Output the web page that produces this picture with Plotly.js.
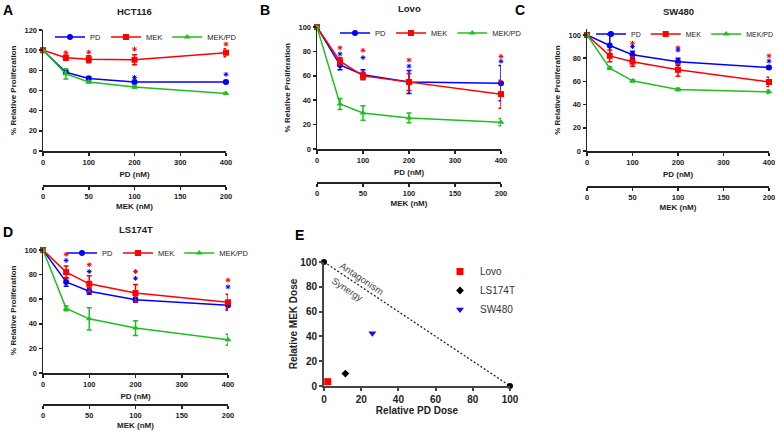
<!DOCTYPE html>
<html>
<head>
<meta charset="utf-8">
<script src="https://cdn.plot.ly/plotly-3.0.1.min.js"></script>
<style>
  html, body { margin: 0; padding: 0; background: #fff; }
  #chart { width: 776px; height: 434px; }
</style>
</head>
<body>
<div id="chart"></div>
<script>
// Doses (PD axis) and the matching MEK axis ticks
const pdDose = [0, 50, 100, 200, 400];
const pdTicks = [0, 100, 200, 300, 400];
const mekTicks = [0, 50, 100, 150, 200];
const starDose = [50, 100, 200, 400];
const yTicks120 = [0, 20, 40, 60, 80, 100, 120];
const yTicks100 = [0, 20, 40, 60, 80, 100];

// HCT116
const hctPD = [100, 78, 72, 68.5, 68.5];
const hctPDErr = [0.5, 2, 2, 1.5, 1.5];
const hctMEK = [100, 92.5, 91, 90.5, 97.5];
const hctMEKErr = [0.5, 2.5, 3.5, 5, 4];
const hctCombo = [100, 76.5, 68.5, 63.5, 57];
const hctComboErr = [0.5, 5, 1, 1, 1];
const hctStarRed = [97.5, 98, 101, 106];
const hctStarBlue = [null, null, 73, 76];

// Lovo
const lovoPD = [100, 69, 61, 55, 54];
const lovoPDErr = [0.5, 4, 4, 9.5, 14.5];
const lovoMEK = [100, 72, 60, 55, 45];
const lovoMEKErr = [0.5, 3, 3, 7, 11.5];
const lovoCombo = [100, 37, 29.5, 25.5, 22];
const lovoComboErr = [0.5, 4.5, 6, 4, 3];
const lovoStarRed = [83, 81, 73, 76];
const lovoStarBlue = [78, 75, 68, 72];

// SW480
const swPD = [100, 91, 83, 77, 72];
const swPDErr = [0.5, 9.5, 3, 3, 1.5];
const swMEK = [100, 82, 77, 70, 59.5];
const swMEKErr = [0.5, 5, 4, 5.5, 4];
const swCombo = [100, 71.5, 60.5, 53, 51];
const swComboErr = [0.5, 1, 1, 1, 1.5];
const swStarRed = [108.5, 93, 89, 82];
const swStarBlue = [101, 90, 87, 77.5];

// LS174T
const lsPD = [100, 74, 66.5, 59.5, 55];
const lsPDErr = [0.5, 3.5, 2.5, 2, 3];
const lsMEK = [100, 82, 72.5, 65, 57.5];
const lsMEKErr = [0.5, 5, 6.5, 7, 6.5];
const lsCombo = [100, 52.5, 44, 36.5, 27];
const lsComboErr = [0.5, 2, 9, 6, 4.5];
const lsStarRed = [96.5, 88, 82.5, 75.5];
const lsStarBlue = [91.5, 82.5, 77, 70];

// Isobologram (panel E)
const isoLines = ['Lovo', 'LS174T', 'SW480'];
const isoPD = [2, 11.5, 26];
const isoMEK = [3.5, 10, 42.5];
const additivePD = [0, 100];
const additiveMEK = [100, 0];
const isoTicks = [0, 20, 40, 60, 80, 100];

const FONT = 'Liberation Sans, Arial, sans-serif';
const BLUE = '#0000ff', RED = '#ff0000', GREEN = '#1fbf1f', INK = '#222';

const panels = [
  { letter: 'A', name: 'HCT116', pd: hctPD, pdErr: hctPDErr, mek: hctMEK, mekErr: hctMEKErr,
    combo: hctCombo, comboErr: hctComboErr, red: hctStarRed, blue: hctStarBlue,
    px: [43, 226], py: [151, 29.5], yRange: [0, 120.5], yTicks: yTicks120, mekY: 185,
    legX: 50, legY: 37, legSize: 7.5 },
  { letter: 'B', name: 'Lovo', pd: lovoPD, pdErr: lovoPDErr, mek: lovoMEK, mekErr: lovoMEKErr,
    combo: lovoCombo, comboErr: lovoComboErr, red: lovoStarRed, blue: lovoStarBlue,
    px: [317, 501], py: [149, 26.5], yRange: [0, 100.5], yTicks: yTicks100, mekY: 182,
    legX: 335, legY: 33, legSize: 7.5 },
  { letter: 'C', name: 'SW480', pd: swPD, pdErr: swPDErr, mek: swMEK, mekErr: swMEKErr,
    combo: swCombo, comboErr: swComboErr, red: swStarRed, blue: swStarBlue,
    px: [587, 769], py: [151, 29.2], yRange: [0, 105], yTicks: yTicks100, mekY: 186,
    legX: 591, legY: 34, legSize: 7 },
  { letter: 'D', name: 'LS174T', pd: lsPD, pdErr: lsPDErr, mek: lsMEK, mekErr: lsMEKErr,
    combo: lsCombo, comboErr: lsComboErr, red: lsStarRed, blue: lsStarBlue,
    px: [43, 228], py: [373, 247.5], yRange: [0, 102], yTicks: yTicks100, mekY: 404,
    legX: 62, legY: 253, legSize: 7.5 }
];

const W = 776, H = 434;
const fx = p => p / W;
const fy = p => 1 - p / H;

const tickFont = { family: FONT, size: 7.5, weight: 'bold', color: INK };
const titleFont = { family: FONT, size: 8, weight: 'bold', color: INK };

function axisBase() {
  return {
    showline: true, linecolor: INK, linewidth: 1.5,
    ticks: 'outside', ticklen: 3, tickwidth: 1.5, tickcolor: INK,
    showgrid: false, zeroline: false, fixedrange: true,
    tickfont: tickFont
  };
}

const data = [];
const layout = {
  width: W, height: H,
  margin: { l: 0, r: 0, t: 0, b: 0, autoexpand: false },
  paper_bgcolor: '#fff', plot_bgcolor: 'rgba(0,0,0,0)',
  showlegend: true,
  annotations: [],
  font: { family: FONT, color: INK }
};

function series(name, y, err, color, symbol, xa, ya, leg) {
  return {
    type: 'scatter', mode: 'lines+markers', name: name,
    x: pdDose, y: y, xaxis: xa, yaxis: ya, legend: leg,
    line: { color: color, width: 1.5 },
    marker: { color: color, symbol: symbol, size: 6 },
    error_y: { type: 'data', array: err, visible: true, color: color, thickness: 1.5, width: 2.5 },
    cliponaxis: false
  };
}

function stars(y, color, xa, ya) {
  return {
    type: 'scatter', mode: 'markers', x: starDose, y: y, xaxis: xa, yaxis: ya,
    showlegend: false, hoverinfo: 'skip', cliponaxis: false,
    marker: { symbol: 'asterisk-open', size: 4, color: color, line: { color: color, width: 1 } }
  };
}

panels.forEach((p, i) => {
  const xn = 2 * i + 1, xm = 2 * i + 2, yn = i + 1;
  const xa = xn === 1 ? 'x' : 'x' + xn;
  const ya = yn === 1 ? 'y' : 'y' + yn;
  const leg = i === 0 ? 'legend' : 'legend' + (i + 1);
  const xKey = xn === 1 ? 'xaxis' : 'xaxis' + xn;
  const yKey = yn === 1 ? 'yaxis' : 'yaxis' + yn;

  data.push(series('PD', p.pd, p.pdErr, BLUE, 'circle', xa, ya, leg));
  data.push(series('MEK', p.mek, p.mekErr, RED, 'square', xa, ya, leg));
  data.push(series('MEK/PD', p.combo, p.comboErr, GREEN, 'triangle-up', xa, ya, leg));
  data.push(stars(p.red, RED, xa, ya));
  data.push(stars(p.blue, BLUE, xa, ya));
  // empty trace so the secondary MEK axis is drawn
  data.push({ type: 'scatter', mode: 'markers', x: [], y: [], xaxis: 'x' + xm, yaxis: ya, showlegend: false, hoverinfo: 'skip' });

  layout[xKey] = Object.assign(axisBase(), {
    domain: [fx(p.px[0]), fx(p.px[1])], anchor: ya, range: [0, 400],
    tickvals: pdTicks,
    title: { text: 'PD (nM)', font: titleFont, standoff: 6 }
  });
  layout['xaxis' + xm] = Object.assign(axisBase(), {
    domain: [fx(p.px[0]), fx(p.px[1])], overlaying: xa, anchor: 'free',
    position: fy(p.mekY), side: 'bottom', range: [0, 200],
    tickvals: mekTicks,
    title: { text: 'MEK (nM)', font: titleFont, standoff: 4 }
  });
  layout[yKey] = Object.assign(axisBase(), {
    domain: [fy(p.py[0]), fy(p.py[1])], anchor: xa, range: p.yRange,
    tickvals: p.yTicks,
    title: { text: '% Relative Proliferation', font: titleFont, standoff: 6 }
  });
  layout[leg] = {
    orientation: 'h', x: fx(p.legX), y: fy(p.legY), xanchor: 'left', yanchor: 'middle',
    bgcolor: 'rgba(0,0,0,0)', font: { family: FONT, size: p.legSize, color: INK },
    itemclick: false, itemdoubleclick: false
  };
  layout.annotations.push({
    xref: 'paper', yref: 'paper', x: fx((p.px[0] + p.px[1]) / 2), y: fy(p.py[1] - 18),
    text: p.name, showarrow: false, xanchor: 'center', yanchor: 'middle',
    font: { family: FONT, size: 9.5, weight: 'bold', color: INK }
  });
});

// Panel letters
[['A', 8, 10], ['B', 265, 10], ['C', 520, 10], ['D', 8, 232], ['E', 299, 235]].forEach(l => {
  layout.annotations.push({
    xref: 'paper', yref: 'paper', x: fx(l[1]), y: fy(l[2]), text: l[0], showarrow: false,
    xanchor: 'center', yanchor: 'middle', font: { family: FONT, size: 14, weight: 'bold', color: '#000' }
  });
});

// Panel E: isobologram
data.push({
  type: 'scatter', mode: 'lines+markers', x: additivePD, y: additiveMEK,
  xaxis: 'x9', yaxis: 'y5', showlegend: false, hoverinfo: 'skip', cliponaxis: false,
  line: { color: '#222', width: 1.3, dash: '2px,2px' },
  marker: { color: '#000', size: 6, symbol: 'circle' }
});
const isoColors = [RED, '#000', '#1010e0'];
const isoSymbols = ['square', 'diamond', 'triangle-down'];
const isoSizes = [7, 6, 7];
isoLines.forEach((name, k) => {
  data.push({
    type: 'scatter', mode: 'markers', name: name, x: [isoPD[k]], y: [isoMEK[k]],
    xaxis: 'x9', yaxis: 'y5', legend: 'legend5', cliponaxis: false,
    marker: { color: isoColors[k], symbol: isoSymbols[k], size: isoSizes[k] }
  });
});

const eTick = { family: FONT, size: 10, weight: 'bold', color: INK };
const eTitle = { family: FONT, size: 10, weight: 'bold', color: INK };
layout.xaxis9 = Object.assign(axisBase(), {
  domain: [fx(324), fx(510)], anchor: 'y5', range: [0, 100], tickvals: isoTicks,
  linecolor: '#444', linewidth: 2, tickcolor: '#444', tickwidth: 2, ticklen: 3,
  tickfont: eTick, title: { text: 'Relative PD Dose', font: eTitle, standoff: 2 }
});
layout.yaxis5 = Object.assign(axisBase(), {
  domain: [fy(386), fy(262)], anchor: 'x9', range: [0, 100], tickvals: isoTicks,
  linecolor: '#444', linewidth: 2, tickcolor: '#444', tickwidth: 2, ticklen: 3,
  tickfont: eTick, title: { text: 'Relative MEK Dose', font: eTitle, standoff: 1 }
});
layout.legend5 = {
  orientation: 'v', x: fx(440), y: fy(257), xanchor: 'left', yanchor: 'top',
  bgcolor: 'rgba(0,0,0,0)', font: { family: FONT, size: 10, color: '#333' },
  tracegroupgap: 0, itemclick: false, itemdoubleclick: false
};
layout.annotations.push(
  { xref: 'x9', yref: 'y5', x: 20.4, y: 87, text: 'Antagonism', showarrow: false, textangle: 33.7,
    font: { family: FONT, size: 9.5, color: '#444' } },
  { xref: 'x9', yref: 'y5', x: 12.9, y: 78, text: 'Synergy', showarrow: false, textangle: 33.7,
    font: { family: FONT, size: 9.5, color: '#444' } }
);

Plotly.newPlot('chart', data, layout, { displayModeBar: false, staticPlot: true });
</script>
</body>
</html>
